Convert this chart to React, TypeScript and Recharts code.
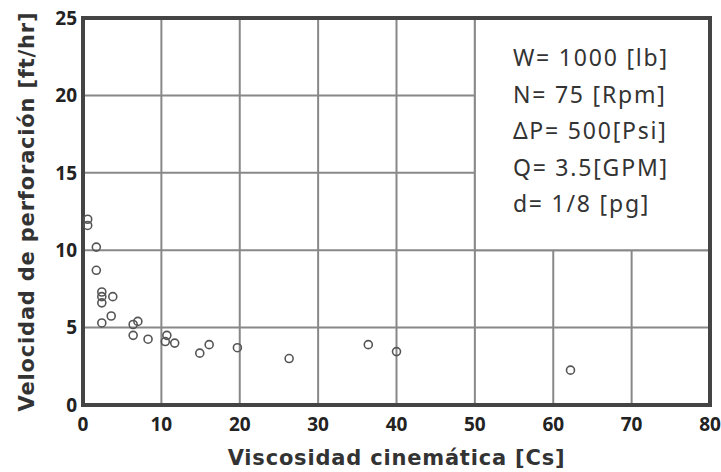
import React from 'react';
import { ScatterChart, Scatter, XAxis, YAxis, CartesianGrid, ReferenceArea } from 'recharts';

const viscosity = [0.6, 0.6, 1.7, 1.7, 2.4, 2.4, 2.4, 3.8, 2.4, 3.6, 6.4, 7.0, 6.4, 8.3, 10.7, 10.5, 11.7, 14.9, 16.1, 19.7, 26.3, 36.4, 40.0, 62.2];
const rate = [12.0, 11.6, 10.2, 8.7, 7.3, 7.0, 6.6, 7.0, 5.3, 5.75, 5.2, 5.4, 4.5, 4.25, 4.5, 4.1, 4.0, 3.35, 3.9, 3.7, 3.0, 3.9, 3.45, 2.25];
const xTicks = [0, 10, 20, 30, 40, 50, 60, 70, 80];
const yTicks = [0, 5, 10, 15, 20, 25];
const notes = ['W= 1000 [lb]', 'N= 75 [Rpm]', '\u0394P= 500[Psi]', 'Q= 3.5[GPM]', 'd= 1/8 [pg]'];

const data = viscosity.map((x, i) => ({ x, y: rate[i] }));

const Ring = (props: any) => (
  <circle cx={props.cx} cy={props.cy} r={4} fill="none" stroke="#555" strokeWidth={1.6} />
);

const NotesLabel = (props: any) => {
  const vb = props.viewBox || { x: 0, y: 0 };
  return (
    <g>
      {notes.map((t, i) => (
        <text key={i} x={vb.x + 38} y={vb.y + 39 + i * 36.6} dominantBaseline="central"
          fontFamily="'Noto Sans', sans-serif" fontSize={23} letterSpacing={1.8} fill="#333">{t}</text>
      ))}
    </g>
  );
};

const tickStyle = { fontFamily: "'Open Sans', sans-serif", fontWeight: 700, fontSize: 19, fill: '#222' };
const labelFont = { fontFamily: "'DejaVu Sans', sans-serif", fontWeight: 700, fontSize: 21, letterSpacing: 0.8, fill: '#333' };

export default function App() {
  return (
    <div style={{ position: 'absolute', left: 0, top: 0, background: '#fff' }}>
      <ScatterChart width={721} height={472} margin={{ top: 18, right: 11, bottom: 0, left: 0 }}>
        <CartesianGrid stroke="#888" strokeWidth={2} horizontalValues={yTicks} verticalValues={xTicks} />
        <XAxis type="number" dataKey="x" domain={[0, 80]} ticks={xTicks} height={67}
          axisLine={false} tickLine={false} tick={tickStyle} tickMargin={7}
          label={{ value: 'Viscosidad cinemática [Cs]', position: 'insideBottom', offset: 7, style: labelFont }} />
        <YAxis type="number" dataKey="y" domain={[0, 25]} ticks={yTicks} width={83}
          axisLine={false} tickLine={false} tick={tickStyle} tickMargin={0}
          label={{ value: 'Velocidad de perforación [ft/hr]', angle: -90, position: 'insideLeft', offset: 27,
            style: { ...labelFont, textAnchor: 'middle' } }} />
        <ReferenceArea x1={50} x2={80} y1={10} y2={25} fill="#fff" fillOpacity={1} stroke="#888" strokeWidth={2}
          label={(p: any) => <NotesLabel {...p} />} ifOverflow="visible" />
        <ReferenceArea x1={0} x2={80} y1={0} y2={25} fill="none" stroke="#444" strokeWidth={4} ifOverflow="visible" />
        <Scatter data={data} shape={Ring} isAnimationActive={false} />
      </ScatterChart>
    </div>
  );
}
